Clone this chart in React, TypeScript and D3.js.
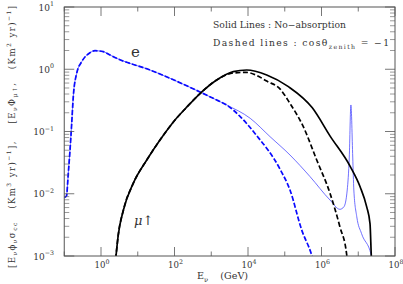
import React from "react";
import * as d3 from "d3";

// ---- data (log10 of energy in GeV, log10 of value) ----
// e-like (nu_e CC) curve: shared low-energy part
const eLowLogE = [-1.0, -0.94, -0.89, -0.843, -0.797, -0.754, -0.661, -0.525, -0.3, -0.163, 0.063, 0.245, 0.427, 1.333, 2.694, 3.148, 3.42];
const eLowLogV = [-2.06, -2.035, -1.67, -1.297, -0.868, -0.44, -0.065, 0.121, 0.266, 0.298, 0.282, 0.229, 0.176, -0.012, -0.365, -0.494, -0.574];
// e, no absorption (thin solid) high-energy tail incl. Glashow resonance
const eSolidTailLogE = [4.06, 4.6, 5.143, 5.69, 6.23, 6.5, 6.61, 6.7, 6.756, 6.8, 6.85, 6.88, 6.96, 7.09, 7.35, 7.38];
const eSolidTailLogV = [-0.788, -1.083, -1.378, -1.726, -2.1, -2.25, -2.21, -1.94, -1.41, -0.574, -1.41, -1.94, -2.37, -2.64, -2.98, -3.06];
// e, absorbed (dashed) tail
const eDashTailLogE = [3.79, 4.2, 4.876, 5.143, 5.46, 5.73, 5.77];
const eDashTailLogV = [-0.762, -1.04, -1.61, -1.94, -2.58, -2.98, -3.06];
// mu-up, shared low-energy part
const muLowLogE = [0.4, 0.47, 0.61, 0.88, 1.245, 1.605, 2.014, 2.3, 2.694, 3.148];
const muLowLogV = [-3.05, -2.66, -2.26, -1.83, -1.458, -1.137, -0.815, -0.63, -0.39, -0.173];
// mu-up, no absorption (solid) tail
const muSolidTailLogE = [3.6, 3.965, 4.51, 5.1, 5.75, 6.23, 6.78, 7.05, 7.23, 7.32, 7.356, 7.36];
const muSolidTailLogV = [-0.039, -0.012, -0.092, -0.28, -0.62, -1.07, -1.56, -1.887, -2.21, -2.48, -3.01, -3.06];
// mu-up, absorbed (dashed) tail
const muDashTailLogE = [3.6, 3.95, 4.2, 4.51, 4.876, 5.143, 5.505, 5.87, 6.23, 6.5, 6.686, 6.7];
const muDashTailLogV = [-0.06, -0.05, -0.09, -0.19, -0.32, -0.55, -0.923, -1.458, -1.99, -2.53, -2.98, -3.06];

const xDecades = [-1, 0, 1, 2, 3, 4, 5, 6, 7, 8];
const xLabelDecades = [0, 2, 4, 6, 8];
const yDecades = [-3, -2, -1, 0, 1];

const W = 403, H = 284;
const L = 64.25, R = 395, T = 7, B = 256;

const x = d3.scaleLog().domain([1e-1, 1e8]).range([L, R]);
const y = d3.scaleLog().domain([1e-3, 1e1]).range([B, T]);

function pts(le: number[], lv: number[]): [number, number][] {
  return le.map((e, i) => [Math.pow(10, e), Math.pow(10, lv[i])]);
}
const line = d3
  .line<[number, number]>()
  .x((d) => x(d[0]))
  .y((d) => y(d[1]))
  .curve(d3.curveMonotoneX);

const eSolid = [...pts(eLowLogE, eLowLogV), ...pts(eSolidTailLogE, eSolidTailLogV)];
const eDash = [...pts(eLowLogE, eLowLogV), ...pts(eDashTailLogE, eDashTailLogV)];
const muSolid = [...pts(muLowLogE, muLowLogV), ...pts(muSolidTailLogE, muSolidTailLogV)];
const muDash = [...pts(muLowLogE, muLowLogV), ...pts(muDashTailLogE, muDashTailLogV)];

const FONT = "'DejaVu Serif', 'Liberation Serif', serif";
const AX = "#555";
const TXT = "#333";

function supLabel(exp: number) {
  return (
    <>
      10
      <tspan dy={-4.5} fontSize={6.3}>
        {exp < 0 ? "\u2212" + Math.abs(exp) : String(exp)}
      </tspan>
    </>
  );
}

export default function App() {
  const yMinor: number[] = [];
  for (let d = -3; d < 1; d++) for (let k = 2; k <= 9; k++) yMinor.push(k * Math.pow(10, d));

  return (
    <svg width={W} height={H} style={{ position: "absolute", left: 0, top: 0, background: "#fff" }} fontFamily={FONT}>
      <defs>
        <clipPath id="plotclip">
          <rect x={L} y={T} width={R - L} height={B - T} />
        </clipPath>
      </defs>
      <rect width={W} height={H} fill="#fff" />

      {/* curves */}
      <g clipPath="url(#plotclip)" fill="none">
        <path d={line(eSolid) || ""} stroke="#4d4dff" strokeWidth={0.8} />
        <path d={line(eDash) || ""} stroke="#0a0aff" strokeWidth={1.7} strokeDasharray="5,2" />
        <path d={line(muSolid) || ""} stroke="#000" strokeWidth={1.7} />
        <path d={line(muDash) || ""} stroke="#000" strokeWidth={1.7} strokeDasharray="5,2.5" />
      </g>

      {/* frame */}
      <rect x={L} y={T} width={R - L} height={B - T} fill="none" stroke={AX} strokeWidth={1} />

      {/* x ticks */}
      {xDecades.map((d) => {
        const xx = x(Math.pow(10, d));
        const len = d % 2 === 0 ? 9 : 4.5;
        return (
          <g key={"xt" + d} stroke={AX} strokeWidth={0.8}>
            <line x1={xx} x2={xx} y1={B} y2={B - len} />
            <line x1={xx} x2={xx} y1={T} y2={T + len} />
          </g>
        );
      })}
      {xLabelDecades.map((d) => (
        <text key={"xl" + d} x={x(Math.pow(10, d)) + 1} y={268} fontSize={8.6} textAnchor="middle" fill={TXT}>
          {supLabel(d)}
        </text>
      ))}

      {/* y ticks */}
      {yDecades.map((d) => {
        const yy = y(Math.pow(10, d));
        return (
          <g key={"yt" + d} stroke={AX} strokeWidth={0.8}>
            <line x1={L} x2={L + 10} y1={yy} y2={yy} />
            <line x1={R} x2={R - 10} y1={yy} y2={yy} />
          </g>
        );
      })}
      {yMinor.map((v, i) => {
        const yy = y(v);
        return (
          <g key={"ym" + i} stroke={AX} strokeWidth={0.6}>
            <line x1={L} x2={L + 5} y1={yy} y2={yy} />
            <line x1={R} x2={R - 5} y1={yy} y2={yy} />
          </g>
        );
      })}
      {yDecades.map((d) => (
        <text key={"yl" + d} x={54} y={y(Math.pow(10, d)) + 3.5} fontSize={9} textAnchor="end" fill={TXT}>
          {supLabel(d)}
        </text>
      ))}

      {/* axis titles */}
      <text x={197} y={279} fontSize={9.6} fill={TXT}>
        E<tspan dy={2.5} fontSize={6.8}>ν</tspan>
        <tspan dy={-2.5}>{"\u00a0\u00a0\u00a0\u00a0(GeV)"}</tspan>
      </text>
      <text
        transform="translate(15,137) rotate(-90)"
        fontSize={8.6}
        textAnchor="middle"
        fill={TXT}
        textLength={262}
        lengthAdjust="spacing"
      >
        [E<tspan dy={2.2} fontSize={6}>ν</tspan>
        <tspan dy={-2.2}>ϕ</tspan>
        <tspan dy={2.2} fontSize={6}>ν</tspan>
        <tspan dy={-2.2}>σ</tspan>
        <tspan dy={2.2} fontSize={6}>cc</tspan>
        <tspan dy={-2.2}>{"\u00a0\u00a0\u00a0(Km"}</tspan>
        <tspan dy={-4} fontSize={6}>3</tspan>
        <tspan dy={4}>{"\u00a0yr)"}</tspan>
        <tspan dy={-4} fontSize={6}>−1</tspan>
        <tspan dy={4}>{"],\u00a0\u00a0\u00a0\u00a0[E"}</tspan>
        <tspan dy={2.2} fontSize={6}>ν</tspan>
        <tspan dy={-2.2}>Φ</tspan>
        <tspan dy={2.2} fontSize={6}>μ↑</tspan>
        <tspan dy={-2.2}>{",\u00a0\u00a0\u00a0(Km"}</tspan>
        <tspan dy={-4} fontSize={6}>2</tspan>
        <tspan dy={4}>{"\u00a0yr)"}</tspan>
        <tspan dy={-4} fontSize={6}>−1</tspan>
        <tspan dy={4}>]</tspan>
      </text>

      {/* legend text */}
      <text x={213} y={28} fontSize={9.2} fill={TXT} textLength={133} lengthAdjust="spacing">
        Solid Lines : No−absorption
      </text>
      <text x={213} y={46} fontSize={9.2} fill={TXT} textLength={176} lengthAdjust="spacing">
        Dashed lines : cosθ<tspan dy={2.5} fontSize={6.2}>zenith</tspan>
        <tspan dy={-2.5}>{"\u00a0=\u00a0−1"}</tspan>
      </text>

      {/* curve labels */}
      <text x={131} y={57} fontSize={15} fill={TXT}>e</text>
      <text x={134} y={225} fontSize={13} fill={TXT} fontStyle="italic">μ↑</text>
    </svg>
  );
}
